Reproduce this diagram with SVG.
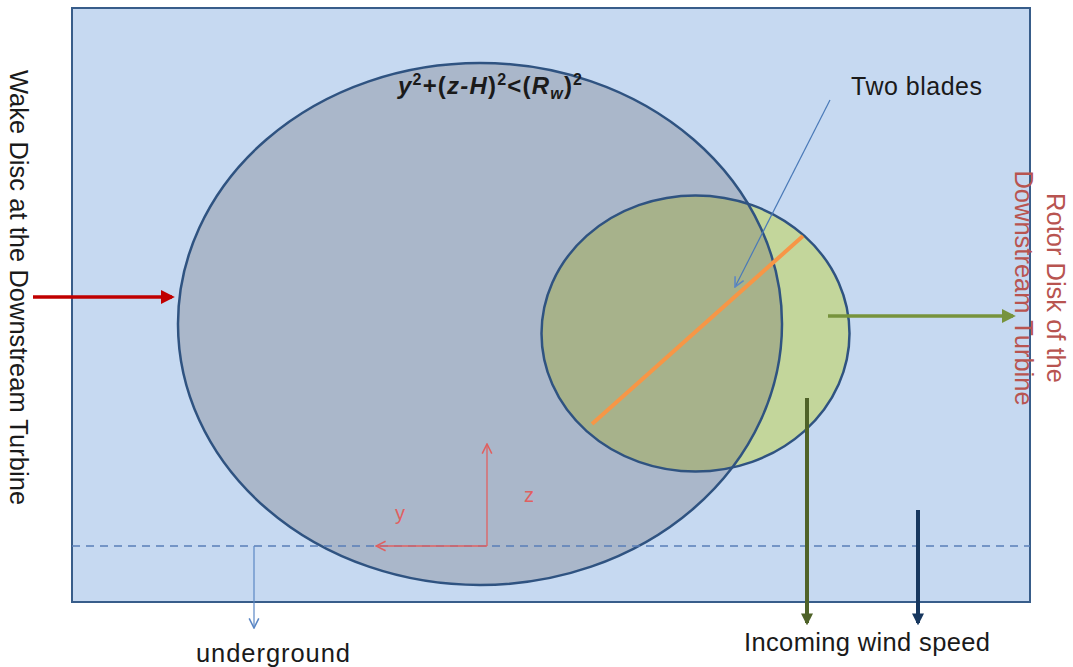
<svg xmlns="http://www.w3.org/2000/svg" width="1073" height="667" viewBox="0 0 1073 667">
<style>
.lbl{font-family:"Liberation Sans",Arial,sans-serif;fill:#1a1a1a}
.red{fill:#b85450}
.ax{stroke:#e06060;stroke-width:1.3;fill:none}
.axl{font-family:"Liberation Sans",Arial,sans-serif;font-size:20px;fill:#e06060}
</style>
<defs>
<marker id="openRed" viewBox="0 0 10 10" refX="9" refY="5" markerWidth="12" markerHeight="12" markerUnits="userSpaceOnUse" orient="auto"><path d="M1,1 L9,5 L1,9" fill="none" stroke="#e06060" stroke-width="1.3"/></marker>
<marker id="openBlue" viewBox="0 0 10 10" refX="9" refY="5" markerWidth="12" markerHeight="12" markerUnits="userSpaceOnUse" orient="auto"><path d="M1,1 L9,5 L1,9" fill="none" stroke="#5b87c5" stroke-width="1.3"/></marker>
<marker id="fillRed" viewBox="0 0 10 10" refX="8" refY="5" markerWidth="4" markerHeight="4" orient="auto"><path d="M0,0 L10,5 L0,10 Z" fill="#c00000"/></marker>
<marker id="fillGreen" viewBox="0 0 10 10" refX="8" refY="5" markerWidth="4" markerHeight="4" orient="auto"><path d="M0,0 L10,5 L0,10 Z" fill="#77933c"/></marker>
<marker id="fillOlive" viewBox="0 0 10 10" refX="8" refY="5" markerWidth="3" markerHeight="3" orient="auto"><path d="M0,0 L10,5 L0,10 Z" fill="#4f6228"/></marker>
<marker id="fillNavy" viewBox="0 0 10 10" refX="8" refY="5" markerWidth="3" markerHeight="3" orient="auto"><path d="M0,0 L10,5 L0,10 Z" fill="#17375e"/></marker>
<clipPath id="wakeClip"><ellipse cx="480" cy="324" rx="302" ry="261"/></clipPath>
</defs>
<rect width="1073" height="667" fill="#ffffff"/>
<g id="domain">
<rect x="72" y="8" width="958" height="594" fill="#c6d9f1" stroke="#385d8a" stroke-width="2"/>
</g>
<g id="wake-disc">
<ellipse cx="480" cy="324" rx="302" ry="261" fill="#aab7ca"/>
</g>
<g id="rotor-disc">
<ellipse cx="695.5" cy="333.5" rx="154" ry="138" fill="#c3d69b"/>
<ellipse cx="695.5" cy="333.5" rx="154" ry="138" fill="#a7b28b" clip-path="url(#wakeClip)"/>
</g>
<g id="outlines">
<ellipse cx="480" cy="324" rx="302" ry="261" fill="none" stroke="#2f5381" stroke-width="2.5"/>
<ellipse cx="695.5" cy="333.5" rx="154" ry="138" fill="none" stroke="#2f5381" stroke-width="2.5"/>
</g>
<g id="ground-line">
<line x1="72" y1="546" x2="1030" y2="546" stroke="#5a7fb8" stroke-width="1.5" stroke-dasharray="8,6"/>
</g>
<g id="blades">
<line x1="592" y1="424" x2="803" y2="236" stroke="#f79646" stroke-width="4"/>
</g>
<g id="connectors">
<line x1="830" y1="100" x2="735" y2="287" stroke="#4a7ab8" stroke-width="1.2" marker-end="url(#openBlue)"/>
<line x1="33" y1="297" x2="172" y2="297" stroke="#c00000" stroke-width="3.5" marker-end="url(#fillRed)"/>
<line x1="828" y1="316" x2="1013" y2="316" stroke="#77933c" stroke-width="3.5" marker-end="url(#fillGreen)"/>
<line x1="807" y1="398" x2="807" y2="623" stroke="#4f6228" stroke-width="4" marker-end="url(#fillOlive)"/>
<line x1="918" y1="510" x2="918" y2="623" stroke="#17375e" stroke-width="4" marker-end="url(#fillNavy)"/>
<line x1="254" y1="546" x2="254" y2="628" stroke="#5b87c5" stroke-width="1.2" marker-end="url(#openBlue)"/>
<line x1="487" y1="546" x2="487" y2="444" class="ax" marker-end="url(#openRed)"/>
<line x1="487" y1="546" x2="376" y2="546" class="ax" marker-end="url(#openRed)"/>
</g>
<g id="labels">
<text x="398" y="94" font-family="Liberation Sans,Arial,sans-serif" font-size="24" font-weight="bold" fill="#1a1a1a" textLength="184"><tspan font-style="italic">y</tspan><tspan dy="-9" font-size="16">2</tspan><tspan dy="9">+(</tspan><tspan font-style="italic">z-H</tspan>)<tspan dy="-9" font-size="16">2</tspan><tspan dy="9">&lt;(</tspan><tspan font-style="italic">R</tspan><tspan dy="5" font-size="16" font-style="italic">w</tspan><tspan dy="-5">)</tspan><tspan dy="-9" font-size="16">2</tspan></text>
<text class="lbl" x="851" y="95" font-size="25" textLength="131">Two blades</text>
<text class="lbl" transform="translate(10,70) rotate(90)" font-size="25.4" textLength="435">Wake Disc at the Downstream Turbine</text>
<text class="lbl red" transform="translate(1047,288) rotate(90)" font-size="25.5" text-anchor="middle">Rotor Disk of the</text>
<text class="lbl red" transform="translate(1015,288) rotate(90)" font-size="25.5" text-anchor="middle">Downstream Turbine</text>
<text class="lbl" x="744" y="651" font-size="25.5" textLength="246">Incoming wind speed</text>
<text class="lbl" x="196" y="662" font-size="25.5" textLength="154">underground</text>
<text class="axl" x="524" y="502">z</text>
<text class="axl" x="395" y="520">y</text>
</g>
</svg>
